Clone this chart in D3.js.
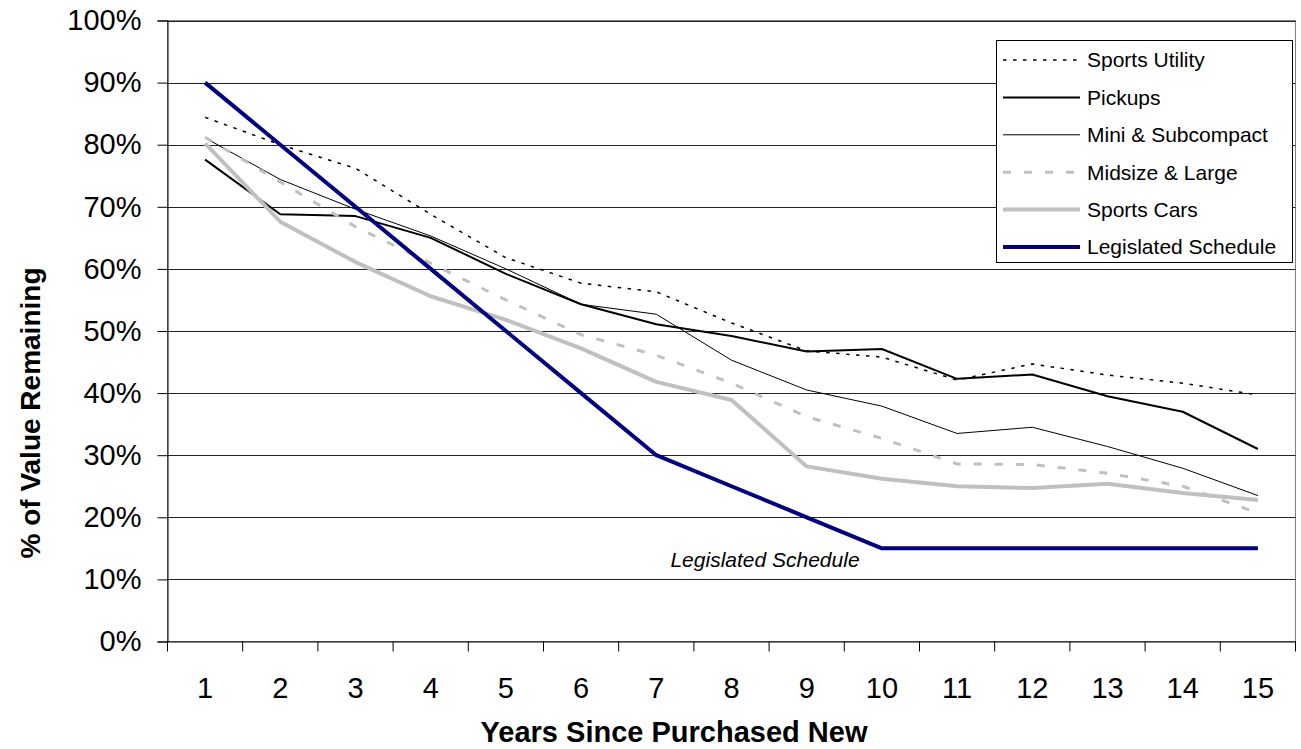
<!DOCTYPE html>
<html>
<head>
<meta charset="utf-8">
<script src="https://cdn.jsdelivr.net/npm/d3@7"></script>
<style>
  html, body { margin: 0; padding: 0; background: #fff; }
  svg { display: block; font-family: "Liberation Sans", Arial, sans-serif; }
</style>
</head>
<body>
<svg id="chart" width="1301" height="749"></svg>
<script>
// ---- data ----
const years = [1, 2, 3, 4, 5, 6, 7, 8, 9, 10, 11, 12, 13, 14, 15];
const yTicks = [0, 10, 20, 30, 40, 50, 60, 70, 80, 90, 100];
const seriesNames = ["Sports Utility", "Pickups", "Mini & Subcompact", "Midsize & Large", "Sports Cars", "Legislated Schedule"];
const sportsUtility = [84.4, 80.0, 76.2, 68.8, 61.8, 57.7, 56.3, 51.3, 46.8, 45.8, 42.1, 44.7, 42.9, 41.6, 39.7];
const pickups       = [77.6, 68.8, 68.5, 65.0, 59.2, 54.3, 51.1, 49.2, 46.7, 47.1, 42.3, 43.0, 39.5, 37.0, 31.0];
const miniSub       = [81.1, 74.4, 69.6, 65.3, 60.0, 54.3, 52.7, 45.3, 40.5, 37.9, 33.5, 34.5, 31.4, 27.9, 23.5];
const midsize       = [81.2, 74.0, 66.8, 60.9, 55.0, 49.4, 46.1, 41.6, 36.2, 32.7, 28.6, 28.5, 27.1, 25.0, 20.7];
const sportsCars    = [80.2, 67.6, 61.1, 55.6, 51.8, 47.2, 41.8, 38.9, 28.2, 26.2, 25.0, 24.7, 25.4, 23.9, 22.8];
const legislated    = [90, 80, 70, 60, 50, 40, 30, 25, 20, 15, 15, 15, 15, 15, 15];
const xTitle = "Years Since Purchased New";
const yTitle = "% of Value Remaining";
const annotation = "Legislated Schedule";

(function () {
// ---- styles ----
const styles = [
  { color: "#000000", width: 1.5, dash: "3.5,6.5" },
  { color: "#000000", width: 2, dash: null },
  { color: "#000000", width: 1, dash: null },
  { color: "#c0c0c0", width: 3, dash: "8,13" },
  { color: "#c0c0c0", width: 4, dash: null },
  { color: "#000080", width: 4, dash: null }
];
const allSeries = [sportsUtility, pickups, miniSub, midsize, sportsCars, legislated];

const svg = d3.select("#chart");
const pL = 167.5, pR = 1295.5, pT = 20.5, pB = 641.5;

const x = d3.scaleBand().domain(years).range([pL, pR]);
const y = d3.scaleLinear().domain([0, 100]).range([pB, pT]);

// plot area border
svg.append("rect").attr("x", pL).attr("y", pT)
  .attr("width", pR - pL).attr("height", pB - pT)
  .attr("fill", "none").attr("stroke", "#808080").attr("stroke-width", 1);

// gridlines
svg.append("g").selectAll("line").data(yTicks.filter(d => d > 0)).join("line")
  .attr("x1", pL).attr("x2", pR)
  .attr("y1", d => Math.round(y(d)) + 0.5).attr("y2", d => Math.round(y(d)) + 0.5)
  .attr("stroke", "#222").attr("stroke-width", 1);

// y axis
const yAxis = svg.append("g").attr("transform", `translate(${pL},0)`)
  .call(d3.axisLeft(y).tickValues(yTicks).tickFormat(d => d + "%").tickSize(10).tickPadding(16));
yAxis.select(".domain").attr("stroke", "#000");
yAxis.selectAll(".tick line").attr("stroke", "#000");
yAxis.selectAll("text").attr("font-size", 29).attr("fill", "#000")
  .attr("font-family", "Liberation Sans, Arial, sans-serif");

// x axis
const xAxis = svg.append("g").attr("transform", `translate(0,${pB})`)
  .call(d3.axisBottom(x).tickSize(0).tickPadding(36));
xAxis.select(".domain").attr("stroke", "#000");
xAxis.selectAll("text").attr("font-size", 29).attr("fill", "#000")
  .attr("font-family", "Liberation Sans, Arial, sans-serif");
const bounds = years.map(d => x(d)).concat([x(years[years.length - 1]) + x.bandwidth()]);
xAxis.append("g").selectAll("line").data(bounds).join("line")
  .attr("x1", d => d).attr("x2", d => d).attr("y1", 0).attr("y2", 10)
  .attr("stroke", "#000");

// lines
const line = d3.line().x((d, i) => x(years[i]) + x.bandwidth() / 2).y(d => y(d));
allSeries.forEach((s, i) => {
  svg.append("path").datum(s)
    .attr("d", line)
    .attr("fill", "none")
    .attr("stroke", styles[i].color)
    .attr("stroke-width", styles[i].width)
    .attr("stroke-dasharray", styles[i].dash)
    .attr("stroke-linejoin", "round");
});

// annotation
svg.append("text").attr("x", 765).attr("y", 567)
  .attr("text-anchor", "middle").attr("font-size", 21).attr("font-style", "italic")
  .text(annotation);

// legend
const lg = svg.append("g");
lg.append("rect").attr("x", 996.5).attr("y", 40.5).attr("width", 296).attr("height", 222)
  .attr("fill", "#fff").attr("stroke", "#000").attr("stroke-width", 1);
seriesNames.forEach((name, i) => {
  const yy = 60 + i * 37.4;
  lg.append("line").attr("x1", 1003).attr("x2", 1080).attr("y1", yy).attr("y2", yy)
    .attr("stroke", styles[i].color).attr("stroke-width", styles[i].width)
    .attr("stroke-dasharray", styles[i].dash);
  lg.append("text").attr("x", 1087).attr("y", yy).attr("dy", "0.35em")
    .attr("font-size", 21).text(name);
});

// axis titles
svg.append("text").attr("x", 674).attr("y", 742).attr("text-anchor", "middle")
  .attr("font-size", 29).attr("font-weight", "bold").text(xTitle);
svg.append("text").attr("transform", "translate(40,413) rotate(-90)")
  .attr("text-anchor", "middle").attr("font-size", 28).attr("font-weight", "bold").text(yTitle);
})();
</script>
</body>
</html>
